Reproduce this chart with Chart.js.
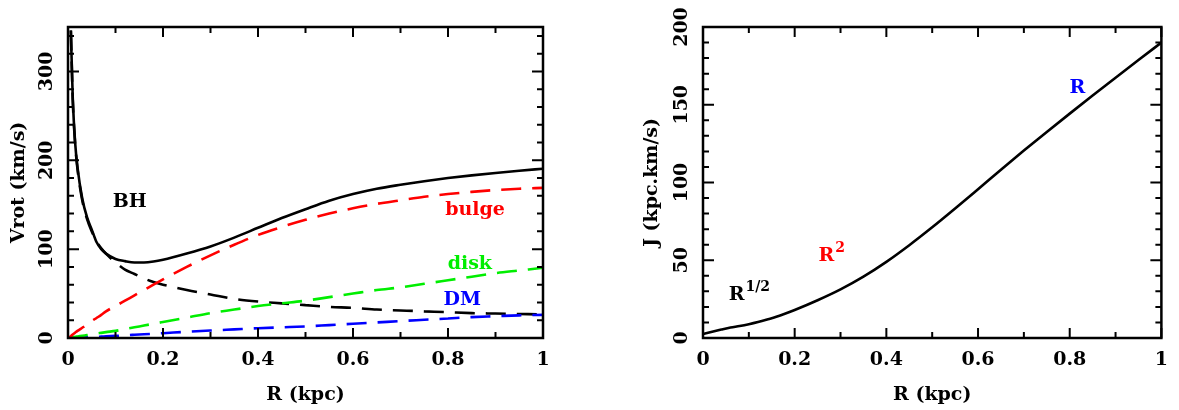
<!DOCTYPE html>
<html>
<head>
<meta charset="utf-8">
<script src="https://cdn.jsdelivr.net/npm/chart.js@4.4.1/dist/chart.umd.min.js"></script>
<style>
  html, body { margin: 0; padding: 0; background: #ffffff; }
  #wrap { position: relative; width: 1179px; height: 410px; background: #ffffff; }
  #c1 { position: absolute; left: 0; top: 0; }
  #c2 { position: absolute; left: 590px; top: 0; }
</style>
</head>
<body>
<div id="wrap">
  <canvas id="c1" width="590" height="410"></canvas>
  <canvas id="c2" width="589" height="410"></canvas>
</div>
<script>
// ---------- data ----------
const radius = [0, 0.006, 0.01, 0.015, 0.02, 0.03, 0.04, 0.05, 0.06, 0.07, 0.08,
                0.1, 0.12, 0.14, 0.16, 0.18, 0.2, 0.25, 0.3, 0.35, 0.4, 0.45, 0.5,
                0.55, 0.6, 0.65, 0.7, 0.75, 0.8, 0.85, 0.9, 0.95, 1.0];
const vTotal = [null, 346, 270, 220, 192, 157, 136, 122, 108, 100, 95,
                89, 86.5, 85, 85, 86, 88, 95, 103, 113, 124, 135, 145,
                154.5, 162, 168, 172.5, 176.5, 180, 183, 185.7, 188.2, 190.5];
const vBH    = [null, 346, 268, 219, 190, 155, 134, 120, 109, 101, 95,
                85, 77, 72, 67, 63, 60, 54, 49, 44, 41, 39, 37,
                35, 34, 32, 31, 30, 29, 28, 27.5, 27, 26.5];
const vBulge = [0, 2, 4, 6, 8, 11.5, 15, 19, 22.5, 26, 30,
                36, 42, 48, 54, 60, 66, 80, 93, 105, 116, 125, 133,
                140, 146, 151, 155, 159, 162, 164.5, 166.5, 168, 169];
const vDisk  = [0, 0.5, 1, 1.3, 1.7, 2.5, 3.3, 4.1, 5, 5.8, 6.6,
                8, 10, 12, 14, 16, 18, 23, 28, 32, 36, 39, 42,
                46, 50, 54, 57, 61, 65, 69, 73, 76, 79];
const vDM    = [0, 0, 0.1, 0.2, 0.3, 0.5, 0.7, 1, 1.2, 1.5, 1.8,
                2.4, 3, 3.6, 4.2, 4.8, 5.4, 7, 8.4, 9.7, 11, 12, 13,
                14.5, 16, 17.5, 19, 20.5, 22, 23.5, 24.5, 25.5, 26];

const radiusJ = [0, 0.02, 0.04, 0.06, 0.08, 0.1, 0.12, 0.14, 0.16, 0.18, 0.2,
                 0.25, 0.3, 0.35, 0.4, 0.45, 0.5, 0.55, 0.6, 0.65, 0.7, 0.75,
                 0.8, 0.85, 0.9, 0.95, 1.0];
const angMom  = [2.5, 4, 5.4, 6.7, 7.7, 8.9, 10.3, 11.9, 13.6, 15.7, 18,
                 24.3, 31.3, 39.5, 49, 59.7, 71.2, 83.3, 95.7, 108.2, 120.5, 132.5,
                 144.3, 155.9, 167.4, 178.8, 190];

const xTickLabels = [0, 0.2, 0.4, 0.6, 0.8, 1];
const yTicksV = [0, 100, 200, 300];
const yTicksJ = [0, 50, 100, 150, 200];

// ---------- helpers ----------
const FONT = "'DejaVu Serif', 'Liberation Serif', serif";
function pts(xs, ys) {
  const out = [];
  for (let i = 0; i < xs.length; i++) if (ys[i] !== null) out.push({x: xs[i], y: ys[i]});
  return out;
}
function fmt(v) { return String(+(+v).toFixed(1)); }

function framePlugin(cfg) {
  return {
    id: 'frame' + cfg.id,
    afterDraw(chart) {
      const ctx = chart.ctx;
      const {left, right, top, bottom} = chart.chartArea;
      const xs = chart.scales.x, ys = chart.scales.y;
      ctx.save();
      ctx.strokeStyle = '#000';
      ctx.lineWidth = 2;
      ctx.lineCap = 'butt';
      for (let i = 0; i <= cfg.xMinorCount; i++) {
        const v = xs.min + i * (xs.max - xs.min) / cfg.xMinorCount;
        const px = xs.getPixelForValue(v);
        const len = (i % cfg.xMajorEvery === 0) ? 10 : 6;
        ctx.beginPath();
        ctx.moveTo(px, bottom); ctx.lineTo(px, bottom - len);
        ctx.moveTo(px, top); ctx.lineTo(px, top + len);
        ctx.stroke();
      }
      for (let v = 0; v <= ys.max + 1e-9; v += cfg.yMinor) {
        const py = ys.getPixelForValue(v);
        const len = (Math.abs(v % cfg.yMajor) < 1e-6) ? 11 : 6;
        ctx.beginPath();
        ctx.moveTo(left, py); ctx.lineTo(left + len, py);
        ctx.moveTo(right, py); ctx.lineTo(right - len, py);
        ctx.stroke();
      }
      ctx.lineWidth = 2.5;
      ctx.strokeRect(left, top, right - left, bottom - top);
      ctx.fillStyle = '#000';
      ctx.font = 'bold 19px ' + FONT;
      ctx.textAlign = 'center';
      ctx.textBaseline = 'middle';
      cfg.yLabels.forEach(v => {
        const py = ys.getPixelForValue(v);
        ctx.save();
        ctx.translate(left - 21, py);
        ctx.rotate(-Math.PI / 2);
        ctx.fillText(String(v), 0, 0);
        ctx.restore();
      });
      cfg.notes.forEach(n => {
        const px = xs.getPixelForValue(n.x), py = ys.getPixelForValue(n.y);
        ctx.fillStyle = n.color;
        ctx.font = 'bold 19px ' + FONT;
        ctx.textBaseline = 'alphabetic';
        ctx.textAlign = 'left';
        const w = ctx.measureText(n.text).width;
        let sw = 0;
        if (n.sup) { ctx.font = 'bold 14px ' + FONT; sw = ctx.measureText(n.sup).width; }
        const x0 = px - (w + sw) / 2;
        ctx.font = 'bold 19px ' + FONT;
        ctx.fillText(n.text, x0, py + 7);
        if (n.sup) {
          ctx.font = 'bold 14px ' + FONT;
          ctx.fillText(n.sup, x0 + w + 1, py - 2);
        }
      });
      ctx.restore();
    }
  };
}

function makeChart(canvasId, datasets, o) {
  return new Chart(document.getElementById(canvasId), {
    type: 'line',
    data: { datasets },
    options: {
      responsive: false,
      animation: false,
      devicePixelRatio: 1,
      layout: { padding: { top: 27, right: o.padRight, left: 0, bottom: 0 } },
      plugins: { legend: { display: false }, tooltip: { enabled: false } },
      elements: {
        point: { radius: 0 },
        line: { cubicInterpolationMode: 'monotone', borderWidth: 2.6, borderCapStyle: 'butt' }
      },
      scales: {
        x: {
          type: 'linear', min: 0, max: 1,
          grid: { display: false, drawTicks: false },
          border: { display: false },
          afterBuildTicks: s => { s.ticks = xTickLabels.map(v => ({ value: v })); },
          ticks: {
            color: '#000', padding: 11,
            font: { family: FONT, size: 19, weight: 'bold' },
            callback: v => fmt(v), maxRotation: 0, minRotation: 0
          },
          title: {
            display: true, text: 'R (kpc)', color: '#000',
            font: { family: FONT, size: 19, weight: 'bold' },
            padding: { top: 0, bottom: 4 }
          },
          afterFit: s => { s.height = 72; }
        },
        y: {
          type: 'linear', min: 0, max: o.yMax,
          grid: { display: false, drawTicks: false },
          border: { display: false },
          ticks: { display: false },
          title: {
            display: true, text: o.yTitle, color: '#000',
            font: { family: FONT, size: 19, weight: 'bold' },
            padding: { top: o.yTitlePad, bottom: 0 }
          },
          afterFit: s => { s.width = o.yWidth; }
        }
      }
    },
    plugins: [framePlugin(o.frame)]
  });
}

const DASH = [20, 11];
makeChart('c1', [
  { data: pts(radius, vBulge), borderColor: '#ff0000', borderDash: DASH },
  { data: pts(radius, vDisk), borderColor: '#00ee00', borderDash: DASH },
  { data: pts(radius, vDM), borderColor: '#0000ff', borderDash: DASH },
  { data: pts(radius, vBH), borderColor: '#000000', borderDash: DASH },
  { data: pts(radius, vTotal), borderColor: '#000000' }
], {
  padRight: 47, yMax: 350, yWidth: 68, yTitle: 'Vrot (km/s)', yTitlePad: 8,
  frame: {
    id: 'L', xMinorCount: 10, xMajorEvery: 2, yMinor: 20, yMajor: 100,
    yLabels: yTicksV,
    notes: [
      { text: 'BH', x: 0.13, y: 155, color: '#000000' },
      { text: 'bulge', x: 0.857, y: 146, color: '#ff0000' },
      { text: 'disk', x: 0.846, y: 86, color: '#00ee00' },
      { text: 'DM', x: 0.83, y: 45, color: '#0000ff' }
    ]
  }
});

makeChart('c2', [
  { data: pts(radiusJ, angMom), borderColor: '#000000' }
], {
  padRight: 2, yMax: 200, yWidth: 113, yTitle: 'J (kpc.km/s)', yTitlePad: 51,
  frame: {
    id: 'R', xMinorCount: 10, xMajorEvery: 2, yMinor: 10, yMajor: 50,
    yLabels: yTicksJ,
    notes: [
      { text: 'R', sup: '1/2', x: 0.1, y: 29, color: '#000000' },
      { text: 'R', sup: '2', x: 0.28, y: 54, color: '#ff0000' },
      { text: 'R', x: 0.817, y: 162, color: '#0000ff' }
    ]
  }
});
</script>
</body>
</html>
